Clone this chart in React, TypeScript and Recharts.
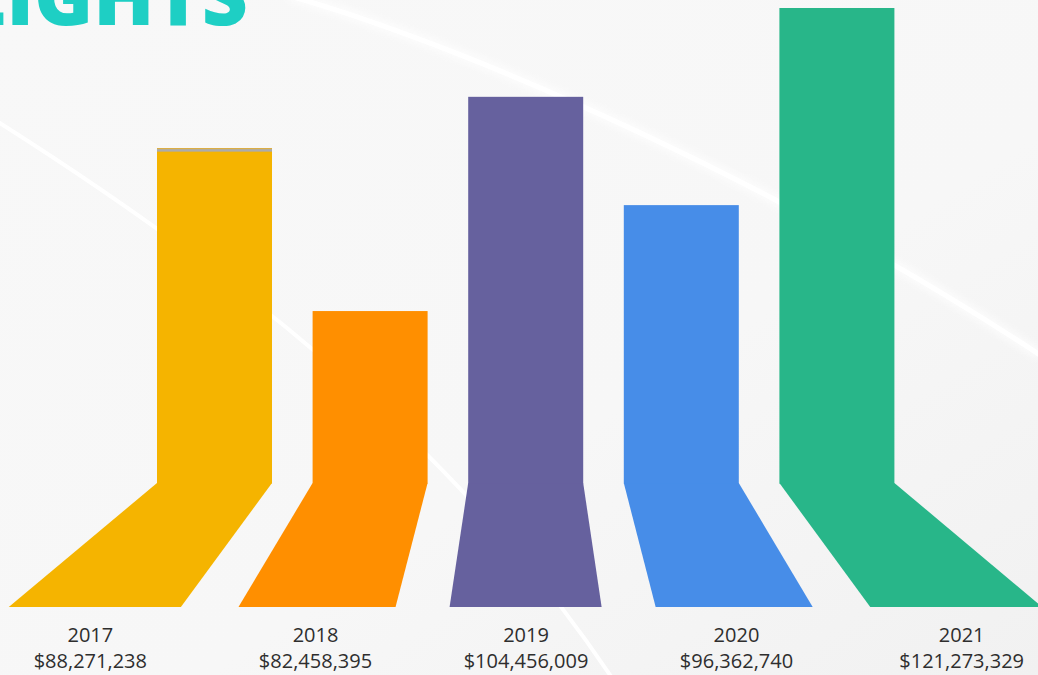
import React from "react";
import { BarChart, Bar, XAxis, YAxis, Cell } from "recharts";

const years = ["2017", "2018", "2019", "2020", "2021"];
const revenueLabels = ["$88,271,238", "$82,458,395", "$104,456,009", "$96,362,740", "$121,273,329"];
// visual bar levels as drawn in the picture (0-100 scale)
const barLevels = [70.5, 36.2, 81.3, 58.5, 100];
const barColors = ["#f5b400", "#ff8f00", "#66619e", "#478de8", "#28b689"];

const data = years.map((y, i) => ({ year: y, level: barLevels[i], label: revenueLabels[i] }));

const W = 1038;
const H = 675;
const M = { top: 8, right: 123, left: 137, bottom: 0 };
const CX = M.left + (W - M.left - M.right) / 2;
const FLOOR = 124;

// perspective spread of the floor
const spread = (x: number) => {
  const d = x - CX;
  return CX + d * (1.32 + 6e-7 * d * d);
};
const labelSpread = (x: number) => {
  const d = x - CX;
  return CX + d * (1.337 + 6.5e-7 * d * d);
};

const BarShape = (props: any) => {
  const { x, y, width, height, index } = props;
  const fill = barColors[index];
  const base = y + height;
  const bl = spread(x);
  const br = spread(x + width);
  return (
    <g>
      <polygon points={`${x},${base} ${x + width},${base} ${br},${base + FLOOR} ${bl},${base + FLOOR}`} fill={fill} />
      <rect x={x} y={y} width={width} height={height + 0.5} fill={fill} />
      {index === 0 && (
        <g>
          <rect x={x} y={y} width={width} height={1} fill="#d9ac4a" />
          <rect x={x} y={y + 1} width={width} height={2.5} fill="#ababab" />
        </g>
      )}
    </g>
  );
};

const Tick = (props: any) => {
  const { x, y, payload, index } = props;
  const tx = labelSpread(x);
  return (
    <g>
      <text x={tx} y={y + 159} textAnchor="middle" fontFamily="'Open Sans', sans-serif" fontSize={20} fill="#2e2e2e">
        {payload.value}
      </text>
      <text x={tx} y={y + 185} textAnchor="middle" fontFamily="'Open Sans', sans-serif" fontSize={20} fill="#2e2e2e">
        {revenueLabels[index]}
      </text>
    </g>
  );
};

const Background = () => (
  <svg width={W} height={H} style={{ position: "absolute", left: 0, top: 0 }}>
    <defs>
      <linearGradient id="bg" x1="0" y1="0" x2="1" y2="1">
        <stop offset="0%" stopColor="#f8f8f8" />
        <stop offset="60%" stopColor="#f7f7f7" />
        <stop offset="100%" stopColor="#f1f1f1" />
      </linearGradient>
      <filter id="blur" x="-10%" y="-10%" width="120%" height="120%">
        <feGaussianBlur stdDeviation="3" />
      </filter>
    </defs>
    <rect x={0} y={0} width={W} height={H} fill="url(#bg)" />
    <path d="M 290 -4 C 480 50, 790 190, 1040 355" stroke="#ffffff" strokeWidth={12} fill="none" opacity={0.6} filter="url(#blur)" />
    <path d="M 290 -4 C 480 50, 790 190, 1040 355" stroke="#ffffff" strokeWidth={5} fill="none" />
    <path d="M -5 120 C 200 250, 450 430, 620 690" stroke="#ffffff" strokeWidth={4} fill="none" />
    <text x={248} y={25} textAnchor="end" fontFamily="'Open Sans', sans-serif" fontWeight={800} fontSize={80} fill="#1ecfc4">
      HIGHLIGHTS
    </text>
  </svg>
);

export default function App() {
  return (
    <div style={{ position: "absolute", left: 0, top: 0, width: W, height: H, overflow: "hidden" }}>
      <Background />
      <div style={{ position: "absolute", left: 0, top: 0 }}>
        <BarChart width={W} height={H} data={data} margin={M} barSize={115}>
          <YAxis hide domain={[0, 100]} />
          <XAxis
            dataKey="year"
            height={192}
            axisLine={false}
            tickLine={false}
            tickSize={0}
            tickMargin={0}
            interval={0}
            tick={<Tick />}
          />
          <Bar dataKey="level" isAnimationActive={false} shape={<BarShape />}>
            {data.map((d, i) => (
              <Cell key={d.year} fill={barColors[i]} />
            ))}
          </Bar>
        </BarChart>
      </div>
    </div>
  );
}
